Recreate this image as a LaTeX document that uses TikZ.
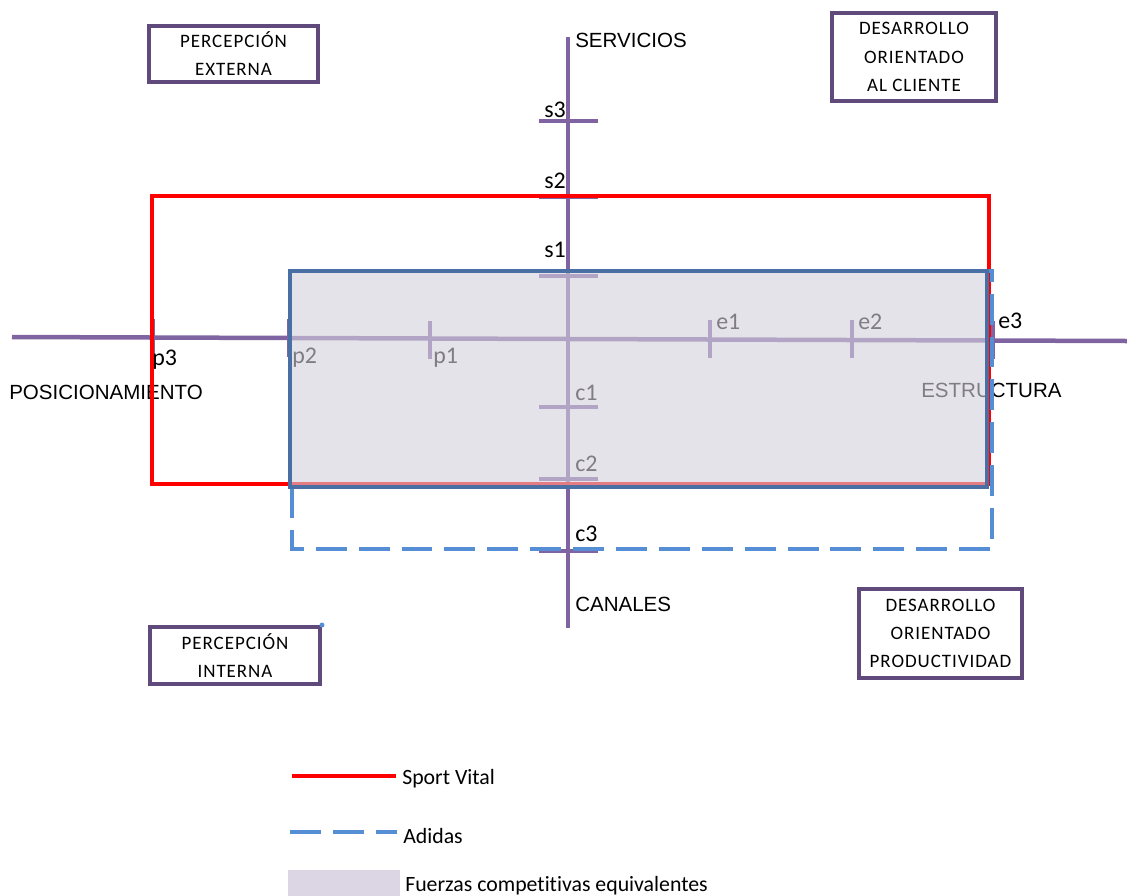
\documentclass[tikz,border=0pt]{standalone}
\usepackage{fontspec}
\setmainfont{Carlito}[Ligatures=NoCommon]
\newfontfamily\axisfont{Liberation Sans}
\newfontfamily\boxfont[LetterSpace=5]{Carlito}
\usetikzlibrary{positioning}

\definecolor{axispurple}{RGB}{128,100,162}
\definecolor{boxpurple}{RGB}{96,74,123}
\definecolor{sportred}{RGB}{255,0,0}
\definecolor{adidasblue}{RGB}{85,142,213}
\definecolor{rectblue}{RGB}{74,111,165}
\definecolor{fuerzas}{RGB}{212,208,220}
\definecolor{swatch}{RGB}{220,214,228}

\tikzset{
	axis/.style={draw=axispurple, line width=3.2pt},
	tickmark/.style={draw=axispurple, line width=3.2pt},
	ticklabel/.style={inner sep=0pt, font=\fontsize{17}{20}\selectfont},
	axislabel/.style={inner sep=0pt, anchor=west, font=\axisfont\fontsize{14.6}{17}\selectfont},
	quadbox/.style={draw=boxpurple, line width=2.8pt, fill=white, align=center, inner sep=0pt, font=\boxfont\fontsize{13.5}{20}\selectfont},
	sportvital/.style={draw=sportred, line width=2.8pt},
	adidas/.style={draw=adidasblue, line width=2.8pt, dash pattern=on 22pt off 8.5pt},
	legendlabel/.style={inner sep=0pt, anchor=west, font=\fontsize{15.5}{18}\selectfont},
}

\begin{document}
\begin{tikzpicture}[x=0.025cm, y=-0.025cm]
	\useasboundingbox (0,0) rectangle (1127,896);
	
	% ejes
	\coordinate (posEnd) at (12,337);
	\coordinate (estEnd) at (1127,341);
	\coordinate (serEnd) at (568,37);
	\coordinate (canEnd) at (568,628);
	\draw[axis] (posEnd) -- (estEnd);
	\draw[axis] (serEnd) -- (canEnd);
	
	\draw[tickmark] (153,319) -- (153,357);
	\draw[tickmark] (289,319) -- (289,357);
	\draw[tickmark] (430,321) -- (430,359);
	\draw[tickmark] (710,320) -- (710,358);
	\draw[tickmark] (852,320) -- (852,358);
	\draw[tickmark] (993,321) -- (993,359);
	\draw[tickmark] (539,121) -- (598,121);
	\draw[tickmark] (539,197) -- (598,197);
	\draw[tickmark] (539,276) -- (598,276);
	\draw[tickmark] (539,407) -- (598,407);
	\draw[tickmark] (539,479) -- (598,479);
	\draw[tickmark] (539,551) -- (598,551);
	
	\node[ticklabel, anchor=east] (s3) at (566,110) {s3};
	\node[ticklabel, anchor=east] (s2) at (566,181) {s2};
	\node[ticklabel, anchor=east] (s1) at (566,250) {s1};
	\node[ticklabel, anchor=west] (c1) at (575,393) {c1};
	\node[ticklabel, anchor=west] (c2) at (575,464) {c2};
	\node[ticklabel, anchor=west] (c3) at (575,534) {c3};
	\node[ticklabel, anchor=north west] (p3) at (152,350) {p3};
	\node[ticklabel, anchor=north west] (p2) at (292,348) {p2};
	\node[ticklabel, anchor=north west] (p1) at (433,348) {p1};
	\node[ticklabel, anchor=south west] (e1) at (716,330) {e1};
	\node[ticklabel, anchor=south west] (e2) at (858,330) {e2};
	\node[ticklabel, anchor=south west] (e3) at (998,329) {e3};
	
	\node[axislabel] (servicios) at (575,40) {SERVICIOS};
	\node[axislabel] (canales) at (575,604) {CANALES};
	\node[axislabel] (posicion) at (9,392) {POSICIONAMIENTO};
	\node[axislabel] (estructura) at (921,390) {ESTRUCTURA};
	
	% Sport Vital, Adidas y fuerzas equivalentes
	\draw[sportvital] (152,196) rectangle (989,484);
	\draw[adidas] (292,487) -- (292,549) -- (992,549) -- (992,271) -- (292,271);
	\fill[fuerzas, opacity=0.6] (290,271) rectangle (987,487);
	\draw[rectblue, line width=2.8pt] (290,271) rectangle (987,487);
	
	% cuadrantes
	\node[quadbox, minimum width=4.225cm, minimum height=1.4cm] (pext) at (233.5,54) {PERCEPCIÓN\\EXTERNA};
	\node[quadbox, minimum width=4.1cm, minimum height=2.2cm] (dcli) at (914,57) {DESARROLLO\\ORIENTADO\\AL CLIENTE};
	\node[quadbox, minimum width=4.25cm, minimum height=1.425cm] (pint) at (235,655.5) {PERCEPCIÓN\\INTERNA};
	\node[quadbox, minimum width=4.075cm, minimum height=2.225cm] (dprod) at (940.5,633.5) {DESARROLLO\\ORIENTADO\\PRODUCTIVIDAD};
	\fill[adidasblue] (pint.north east) circle (2.5);
	
	% leyenda
	\node[legendlabel] (lsport) at (402,779) {Sport Vital};
	\node[legendlabel] (ladidas) at (403,836) {Adidas};
	\node[legendlabel] (lfuerzas) at (405,886) {Fuerzas competitivas equivalentes};
	\draw[sportvital] (292,776) -- (396,776);
	\draw[adidas] (290,832) -- (397,832);
	\fill[swatch] (288,870) rectangle (400,896);
	
\end{tikzpicture}
\end{document}
